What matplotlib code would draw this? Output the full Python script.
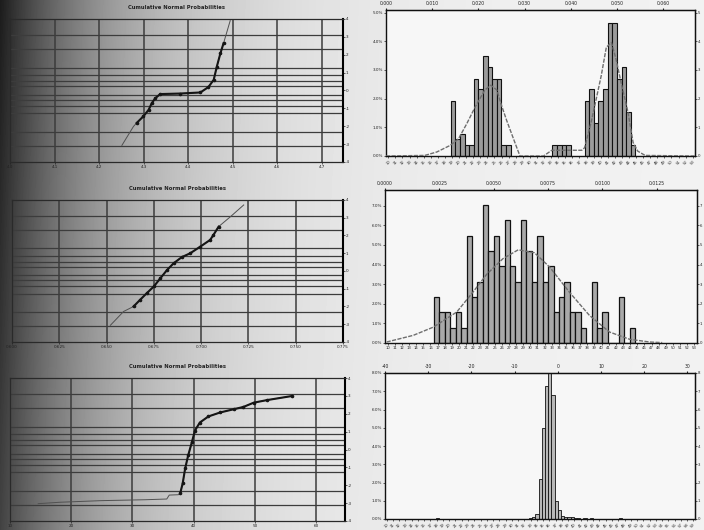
import matplotlib

matplotlib.use("Agg")
import matplotlib.pyplot as plt
import numpy as np

W_PX, H_PX = 704, 530

# ---- left column: cumulative normal probability plots ----
prob_grid_z = [-3.09, -2.33, -1.28, -0.84, -0.52, -0.25, 0.25, 0.52, 0.84, 1.28, 2.33, 3.09]
z_ticks = [-4, -3, -2, -1, 0, 1, 2, 3, 4]
prob_title = "Cumulative Normal Probabilities"

# x values are in tick steps (0 = first labelled gridline)
pp_top_x = [2.51, 2.77, 2.84, 2.99, 3.11, 3.18, 3.26, 3.37, 3.82, 4.27, 4.45, 4.57, 4.64, 4.72, 4.79, 4.94]
pp_top_z = [-3.07, -2.01, -1.82, -1.45, -1.08, -0.71, -0.43, -0.20, -0.17, -0.11, 0.19, 0.60, 1.34, 2.08, 2.64, 3.91]
pp_top_xlabels = ["4.0", "4.1", "4.2", "4.3", "4.4", "4.5", "4.6", "4.7"]

pp_mid_x = [2.08, 2.36, 2.57, 2.71, 2.85, 3.00, 3.14, 3.28, 3.42, 3.59, 3.77, 3.98, 4.19, 4.26, 4.37, 4.62, 4.90]
pp_mid_z = [-3.06, -2.28, -2.00, -1.62, -1.25, -0.87, -0.40, 0.06, 0.44, 0.78, 1.00, 1.37, 1.75, 2.03, 2.50, 3.06, 3.72]
pp_mid_xlabels = ["0.600", "0.625", "0.650", "0.675", "0.700", "0.725", "0.750", "0.775"]

pp_bot_x = [0.46, 0.82, 1.50, 2.21, 2.56, 2.60, 2.75, 2.78, 2.82, 2.86, 2.91, 2.97, 3.02, 3.10, 3.24,
            3.43, 3.65, 3.81, 3.98, 4.19, 4.60]
pp_bot_z = [-3.03, -2.95, -2.86, -2.81, -2.77, -2.55, -2.53, -2.44, -1.89, -1.06, -0.32, 0.41, 1.06, 1.51, 1.85,
            2.07, 2.25, 2.38, 2.62, 2.76, 2.99]
pp_bot_xlabels = ["10", "20", "30", "40", "50", "60"]

# ---- right column: histograms (x in bin steps, y in percent) ----
hist_top_bins = [14, 15, 16, 17, 18, 19, 20, 21, 22, 23, 24, 25, 26,
                 36, 37, 38, 39,
                 43, 44, 45, 46, 47, 48, 49, 50, 51, 52, 53]
hist_top_pct = [1.92, 0.60, 0.78, 0.40, 0.40, 2.70, 2.32, 3.48, 3.09, 2.70, 2.70, 0.40, 0.40,
                0.40, 0.40, 0.40, 0.40,
                1.92, 2.32, 1.15, 1.92, 2.32, 4.65, 4.65, 2.70, 3.09, 1.54, 0.40]
curve_top_x = [0.0, 8.4, 11.0, 13.9, 15.7, 17.5, 19.3, 21.4, 22.7, 24.0, 25.0, 26.1, 27.6, 29.0, 34.1, 35.9,
               40.3, 42.4, 43.0, 44.4, 45.5, 46.6, 47.7, 48.8, 49.8, 50.9, 52.4, 53.5, 54.5, 56.1, 66.9]
curve_top_y = [0.0, 0.02, 0.14, 0.37, 0.60, 1.13, 1.71, 2.30, 2.47, 2.30, 1.77, 1.25, 0.60, 0.0, 0.0, 0.20,
               0.20, 0.20, 0.29, 1.17, 1.98, 2.80, 3.79, 3.96, 3.38, 2.56, 1.52, 0.47, 0.17, 0.02, 0.0]
hist_top_toplabels = ["0.000", "0.010", "0.020", "0.030", "0.040", "0.050", "0.060"]

hist_mid_first_bin = 9
hist_mid_counts = [3, 2, 2, 1, 2, 1, 7, 3, 4, 9, 6, 7, 5, 8, 5, 4, 8, 6, 4, 7, 4, 5, 2, 3, 4, 2, 2, 1, 0, 4,
                   1, 2, 0, 0, 3, 0, 1]
curve_mid_x = [0.3, 5.2, 8.9, 13.2, 16.2, 18.7, 21.7, 24.5, 27.5, 30.3, 33.9, 37.6, 41.3, 45.0, 48.7, 51.0]
curve_mid_y = [0.05, 0.39, 0.81, 1.58, 2.60, 3.50, 4.30, 4.75, 4.60, 3.87, 2.60, 1.41, 0.56, 0.19, 0.05, 0.02]
hist_mid_toplabels = ["0.0000", "0.0025", "0.0050", "0.0075", "0.0100", "0.0125"]

hist_bot_bins = [16, 45, 46, 47, 48, 49, 50, 51, 52, 53, 54, 55, 56, 57, 58, 59, 60, 62, 64, 73]
hist_bot_pct = [0.05, 0.05, 0.10, 0.25, 2.20, 5.00, 7.30, 8.60, 6.80, 1.00, 0.50, 0.15, 0.10, 0.10, 0.12,
                0.08, 0.06, 0.06, 0.05, 0.05]
hist_bot_toplabels = ["-40", "-30", "-20", "-10", "0", "10", "20", "30"]


def _px_rect(left, top, right, bottom):
    return [left / W_PX, 1 - bottom / H_PX, (right - left) / W_PX, (bottom - top) / H_PX]


def _gradient_background(fig):
    ax = fig.add_axes([0, 0, 1, 1], zorder=-5)
    xx, yy = np.meshgrid(np.arange(W_PX), np.arange(H_PX))
    shade = 0.95 - 0.84 * np.exp(-xx / 125.0) * (1 - 0.18 * yy / H_PX)
    ax.imshow(shade, cmap="gray", vmin=0, vmax=1, aspect="auto", interpolation="bilinear")
    ax.axis("off")


def _prob_panel(fig, rect, xs, zs, xlabels, xmax, marked):
    ax = fig.add_axes(rect)
    ax.set_facecolor("none")
    ax.set_xlim(0, xmax)
    ax.set_ylim(-4, 4)
    for z in prob_grid_z:
        ax.axhline(z, color="#3c3c3c", lw=0.9, zorder=1)
    ax.set_xticks(range(len(xlabels)), xlabels)
    ax.grid(axis="x", color="#3c3c3c", lw=1.1, zorder=1)
    ax.plot(xs, zs, color="#505050", lw=0.7, zorder=3)
    a, b = marked
    ax.plot(xs[a:b], zs[a:b], color="#151515", lw=1.5, marker="o", ms=1.6, zorder=4)

    ax.yaxis.tick_right()
    ax.set_yticks(z_ticks, [str(z) for z in z_ticks])
    ax.tick_params(labelsize=3.0, length=1.2, width=0.5, pad=0.8, colors="#222222")
    for s in ax.spines.values():
        s.set_color("#2a2a2a")
        s.set_linewidth(0.9)
    ax.spines["right"].set_color("black")
    ax.spines["right"].set_linewidth(1.5)
    ax.set_title(prob_title, fontsize=3.8, fontweight="bold", color="#222222", pad=7)
    return ax


def _hist_panel(fig, rect, bins, heights, xmax, ymax, yticks, top_step, top_labels,
                n_bottom, bottom_rot, fill, edge_lw, curve=None):
    ax = fig.add_axes(rect)
    ax.set_facecolor("#f7f7f7")
    ax.bar(np.asarray(bins) + 0.5, heights, width=1.0, color=fill, edgecolor="#111111",
           linewidth=edge_lw, zorder=2)
    if curve is not None:
        ax.plot(curve[0], curve[1], color="#6e6e6e", lw=1.0, ls=(0, (3, 1)), zorder=3)
    ax.set_xlim(0, xmax)
    ax.set_ylim(0, ymax)

    ax.set_yticks(yticks, [f"{t:.1f}%" for t in yticks])
    right = ax.secondary_yaxis("right")
    right.set_yticks(yticks, [str(t) for t in yticks])
    right.tick_params(labelsize=2.8, length=1.2, width=0.5, pad=0.6, colors="#222222")

    pos = np.linspace(0.5, xmax - 0.5, n_bottom)
    ax.set_xticks(pos, [f"{i % 90 + 10}" for i in range(n_bottom)], rotation=bottom_rot,
                  ha="right" if bottom_rot else "center", rotation_mode="anchor" if bottom_rot else "default")
    ax.tick_params(labelsize=2.7, length=1.2, width=0.5, pad=1.2, colors="#222222")
    ax.tick_params(axis="y", labelsize=3.0)

    top = ax.secondary_xaxis("top")
    top.set_xticks([i * top_step for i in range(len(top_labels))], top_labels)
    top.tick_params(labelsize=3.3, length=1.8, width=0.8, pad=1.2, colors="#222222")
    for s in ax.spines.values():
        s.set_color("#111111")
        s.set_linewidth(1.0)
    return ax


def main():
    fig = plt.figure(figsize=(W_PX / 100, H_PX / 100), dpi=100)
    _gradient_background(fig)

    _prob_panel(fig, _px_rect(10, 19, 343, 162), pp_top_x, pp_top_z, pp_top_xlabels, 7.47, (2, 15))
    _prob_panel(fig, _px_rect(12, 200, 343, 342), pp_mid_x, pp_mid_z, pp_mid_xlabels, 7.0, (2, 15))
    _prob_panel(fig, _px_rect(10, 378, 345, 521), pp_bot_x, pp_bot_z, pp_bot_xlabels, 5.47, (7, 21))

    _hist_panel(fig, _px_rect(386, 10, 695, 156), hist_top_bins, hist_top_pct, 66.9, 5.09,
                [0, 1, 2, 3, 4, 5], 10, hist_top_toplabels, 44, 45, "#9b9b9b", 0.8,
                curve=(curve_top_x, curve_top_y))

    counts = np.asarray(hist_mid_counts, dtype=float)
    mid_bins = hist_mid_first_bin + np.arange(len(counts))
    _hist_panel(fig, _px_rect(385, 190, 697, 343), mid_bins, counts / counts.sum() * 100, 57.4, 7.8,
                [0, 1, 2, 3, 4, 5, 6, 7], 10, hist_mid_toplabels, 44, 0, "#a9a9a9", 0.9,
                curve=(curve_mid_x, curve_mid_y))

    _hist_panel(fig, _px_rect(385, 373, 695, 519), hist_bot_bins, hist_bot_pct, 96.9, 8.0,
                [0, 1, 2, 3, 4, 5, 6, 7, 8], 13.5, hist_bot_toplabels, 50, 45, "#b8b8b8", 0.6)

    fig.savefig("out.png", dpi=100)


if __name__ == "__main__":
    main()
